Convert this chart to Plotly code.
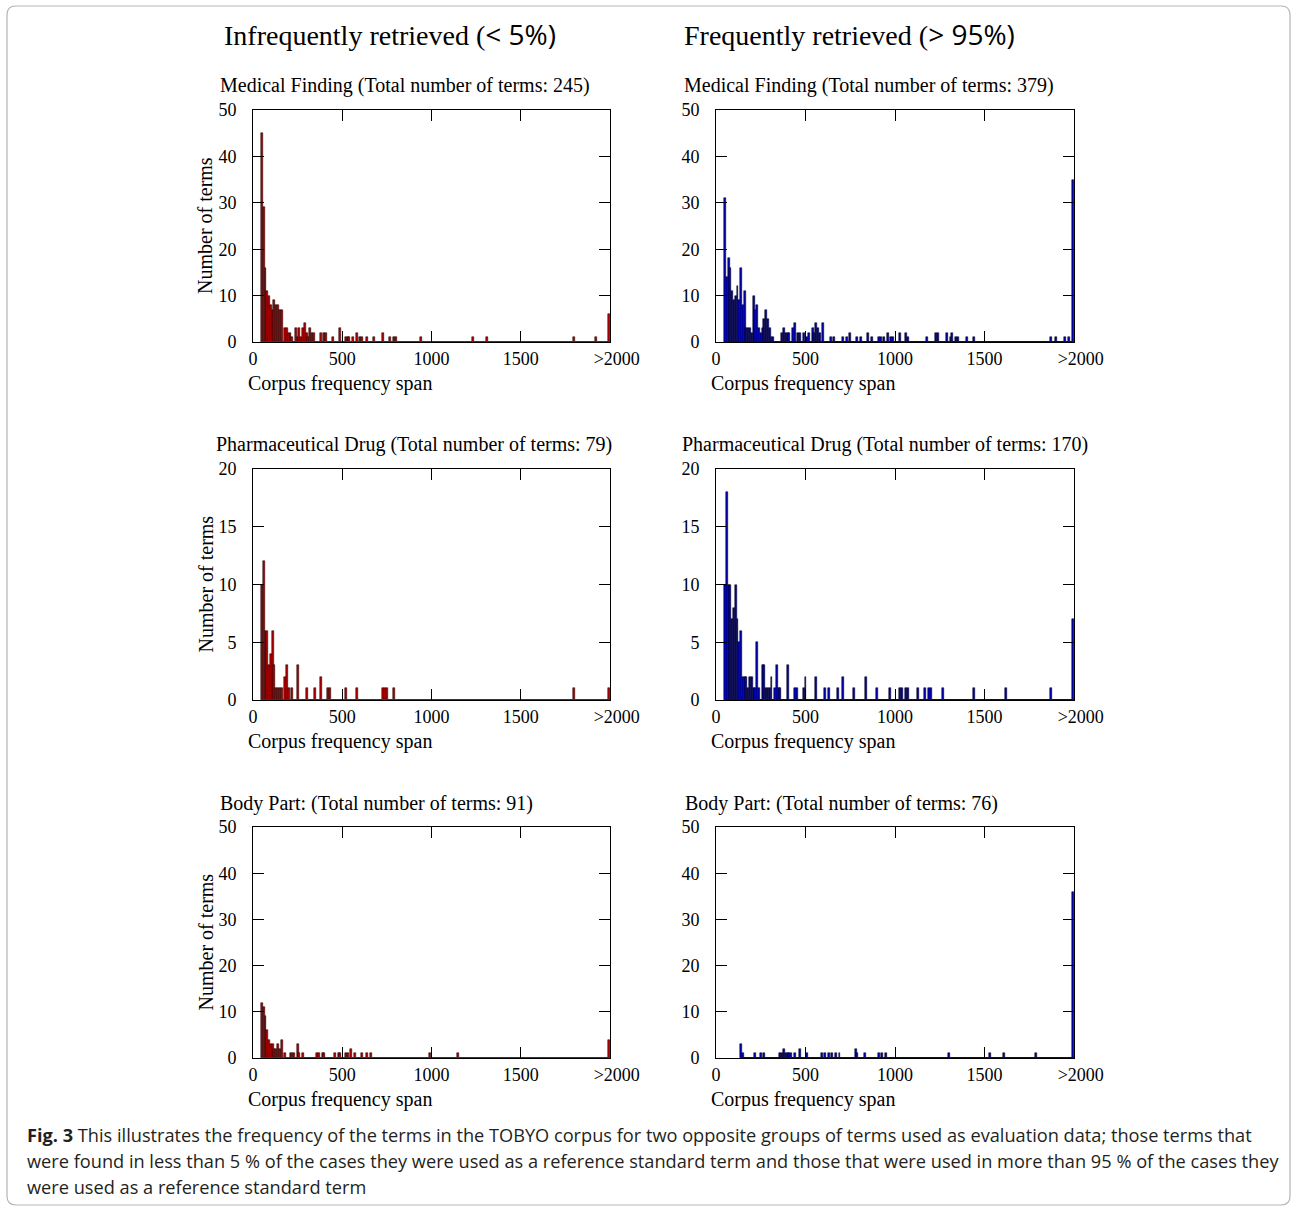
import plotly.graph_objects as go

# ---------------- data ----------------
# bin centres (corpus frequency span) and number of terms; 2000 = ">2000"
mf_low_x = [50, 60, 70, 80, 90, 100, 110, 120, 130, 140, 150, 160,
            180, 190, 200, 210, 220, 240, 250, 260, 270, 280, 290, 300, 310, 320, 330, 340,
            380, 400, 410, 450, 490, 520, 530, 540, 560, 580, 600, 610, 640, 680, 730,
            770, 790, 800, 940, 1230, 1310, 1800, 1920, 2000]
mf_low_y = [45, 29, 16, 11, 10, 8, 7, 9, 8, 8, 7, 7,
            3, 3, 2, 2, 1, 3, 1, 3, 1, 3, 4, 2, 1, 3, 2, 2,
            2, 2, 2, 1, 3, 1, 1, 1, 1, 2, 1, 1, 1, 1, 2,
            1, 1, 1, 1, 1, 1, 1, 1, 6]

mf_high_x = [50, 60, 70, 80, 90, 100, 110, 120, 130, 140, 150, 160,
             170, 180, 190, 200, 210, 220, 230, 240, 250, 260, 270, 280, 290, 300, 310, 320,
             370, 380, 390, 400, 410, 430, 440, 460, 470, 490, 510, 520, 540, 550, 560, 570,
             580, 600, 640, 660, 710, 730, 750, 790, 810, 850, 870, 910, 920, 940, 960, 980,
             990, 1030, 1060, 1070, 1180, 1230, 1240, 1290, 1310, 1320, 1340, 1350, 1400,
             1440, 1870, 1900, 1950, 1970, 2000]
mf_high_y = [31, 14, 18, 16, 11, 9, 10, 12, 9, 16, 8, 11,
             3, 3, 3, 2, 10, 7, 8, 3, 2, 3, 5, 7, 5, 3, 1, 1,
             2, 3, 2, 2, 2, 3, 4, 2, 2, 2, 1, 2, 3, 2, 4, 3,
             2, 4, 1, 1, 1, 1, 2, 1, 1, 2, 1, 1, 1, 1, 2, 1,
             1, 2, 2, 1, 1, 2, 2, 2, 1, 2, 1, 1, 1,
             1, 1, 1, 1, 1, 35]

pd_low_x = [50, 60, 70, 80, 90, 100, 110, 120, 130, 140, 150, 160, 180, 190, 200, 220,
            250, 300, 350, 380, 420, 430, 520, 580, 730, 740, 750, 790, 1800, 2000]
pd_low_y = [10, 12, 6, 6, 3, 4, 6, 3, 1, 1, 1, 1, 2, 3, 1, 1,
            3, 1, 1, 2, 1, 1, 1, 1, 1, 1, 1, 1, 1, 1]

pd_high_x = [50, 60, 70, 80, 90, 100, 110, 120, 130, 140, 150, 160, 170, 180, 190, 200,
             210, 220, 230, 240, 260, 270, 280, 290, 300, 310, 330, 340, 350, 360, 400,
             440, 450, 490, 500, 560, 610, 630, 680, 710, 770, 840, 900, 970, 1030, 1040,
             1060, 1070, 1130, 1170, 1190, 1200, 1270, 1440, 1620, 1870, 2000]
pd_high_y = [10, 18, 10, 10, 7, 8, 10, 7, 5, 6, 2, 2, 2, 1, 2, 2,
             1, 1, 5, 1, 3, 3, 1, 1, 1, 2, 1, 3, 1, 1, 3,
             1, 1, 1, 2, 2, 1, 1, 1, 2, 1, 2, 1, 1, 1, 1,
             1, 1, 1, 1, 1, 1, 1, 1, 1, 1, 7]

bp_low_x = [50, 60, 70, 80, 90, 100, 110, 120, 130, 140, 150, 160, 180, 210, 220, 230,
            250, 260, 280, 360, 370, 390, 400, 460, 480, 490, 520, 530, 550, 570, 610,
            640, 660, 990, 1150, 2000]
bp_low_y = [12, 11, 9, 6, 4, 3, 3, 2, 2, 3, 2, 4, 1, 1, 1, 1,
            3, 1, 1, 1, 1, 1, 1, 1, 1, 1, 1, 1, 2, 1, 1,
            1, 1, 1, 1, 4]

bp_high_x = [140, 150, 220, 250, 270, 360, 370, 380, 390, 400, 410, 420, 440, 470, 510,
             590, 610, 630, 650, 670, 690, 780, 790, 830, 910, 930, 950, 1300, 1530, 1610,
             1790, 2000]
bp_high_y = [3, 1, 1, 1, 1, 1, 1, 2, 1, 1, 1, 1, 1, 2, 1,
             1, 1, 1, 1, 1, 1, 2, 1, 1, 1, 1, 1, 1, 1, 1,
             1, 36]

panel_titles = ["Medical Finding (Total number of terms: 245)",
                "Medical Finding (Total number of terms: 379)",
                "Pharmaceutical Drug (Total number of terms: 79)",
                "Pharmaceutical Drug (Total number of terms: 170)",
                "Body Part: (Total number of terms: 91)",
                "Body Part: (Total number of terms: 76)"]
x_tickvals = [0, 500, 1000, 1500, 2000]
x_ticktext = ["0", "500", "1000", "1500", "\u00a0\u00a0\u00a0>2000"]
y_max = [50, 20, 50]
y_step = [10, 5, 10]

caption_lines = [
    "<b>Fig. 3</b> This illustrates the frequency of the terms in the TOBYO corpus for two opposite groups of terms used as evaluation data; those terms that",
    "were found in less than 5 % of the cases they were used as a reference standard term and those that were used in more than 95 % of the cases they",
    "were used as a reference standard term",
]

# ---------------- layout helpers ----------------
W, H = 1294, 1208
SERIF = "Liberation Serif"
SANS = "Open Sans"
RED = "#b40000"
BLUE = "#0000b0"

col_px = [(253, 610), (716, 1074)]
row_px = [(110, 342), (469, 700), (827, 1058)]
title_x_px = [(218, 682), (214, 680), (218, 683)]


def px_x(p):
    return p / W


def px_y(p):
    return 1 - p / H


panels = [
    (mf_low_x, mf_low_y, RED), (mf_high_x, mf_high_y, BLUE),
    (pd_low_x, pd_low_y, RED), (pd_high_x, pd_high_y, BLUE),
    (bp_low_x, bp_low_y, RED), (bp_high_x, bp_high_y, BLUE),
]

fig = go.Figure()
annotations = []
layout_axes = {}

for i, (xs, ys, color) in enumerate(panels):
    r, c = divmod(i, 2)
    n = i + 1
    xa = "x" if n == 1 else f"x{n}"
    ya = "y" if n == 1 else f"y{n}"
    offsets = [-11 if v >= 2000 else -5.5 for v in xs]
    fig.add_trace(go.Bar(
        x=xs, y=ys, width=11, offset=offsets,
        marker=dict(color=color, line=dict(color="black", width=0.5)),
        xaxis=xa, yaxis=ya, showlegend=False, hoverinfo="x+y"))
    fig.add_trace(go.Scatter(
        x=[xs[0] - 5, 2000], y=[0, 0], mode="lines",
        line=dict(color=color, width=2), xaxis=xa, yaxis=ya,
        showlegend=False, hoverinfo="skip"))

    x0, x1 = col_px[c]
    y0, y1 = row_px[r]
    common = dict(showline=True, linecolor="black", linewidth=1, mirror="ticks",
                  ticks="inside", ticklen=11, tickcolor="black", tickwidth=1,
                  showgrid=False, zeroline=False, automargin=False,
                  tickfont=dict(family=SERIF, size=18, color="black"))
    layout_axes["xaxis" if n == 1 else f"xaxis{n}"] = dict(
        domain=[px_x(x0), px_x(x1)], anchor=ya, range=[0, 2000],
        tickvals=x_tickvals, ticktext=x_ticktext, **common)
    layout_axes["yaxis" if n == 1 else f"yaxis{n}"] = dict(
        domain=[px_y(y1), px_y(y0)], anchor=xa, range=[0, y_max[r]],
        dtick=y_step[r], tick0=0, ticklabelstandoff=12, **common)

    # panel title
    annotations.append(dict(
        text=panel_titles[i], xref="paper", yref="paper",
        x=px_x(title_x_px[r][c]), y=px_y(y0 - 24), xanchor="left", yanchor="middle",
        showarrow=False, font=dict(family=SERIF, size=20, color="black")))
    # x-axis title
    annotations.append(dict(
        text="Corpus frequency span", xref="paper", yref="paper",
        x=px_x(x0 - 7), y=px_y(y1 + 41), xanchor="left", yanchor="middle",
        showarrow=False, font=dict(family=SERIF, size=20, color="black")))
    if c == 0:
        annotations.append(dict(
            text="Number of terms", xref="paper", yref="paper",
            x=px_x(205), y=px_y((y0 + y1) / 2), xanchor="center", yanchor="middle",
            textangle=-90, showarrow=False,
            font=dict(family=SERIF, size=20, color="black")))

# column headers
annotations.append(dict(
    text=f"Infrequently retrieved (<span style='font-family:{SANS}'>&lt; 5%)</span>",
    xref="paper", yref="paper", x=px_x(222), y=px_y(34), xanchor="left", yanchor="middle",
    showarrow=False, font=dict(family=SERIF, size=28, color="black")))
annotations.append(dict(
    text=f"Frequently retrieved (<span style='font-family:{SANS}'>&gt; 95%)</span>",
    xref="paper", yref="paper", x=px_x(682), y=px_y(34), xanchor="left", yanchor="middle",
    showarrow=False, font=dict(family=SERIF, size=28, color="black")))

# caption
for k, line in enumerate(caption_lines):
    annotations.append(dict(
        text=line, xref="paper", yref="paper", x=px_x(25), y=px_y(1135 + 26 * k),
        xanchor="left", yanchor="middle", showarrow=False,
        font=dict(family=SANS, size=18.2, color="#231f20")))

# rounded outer frame
rr = 9
fx0, fx1, fy0, fy1 = 7, 1290, 6, 1205
path = (f"M {px_x(fx0 + rr)} {px_y(fy0)} L {px_x(fx1 - rr)} {px_y(fy0)} "
        f"Q {px_x(fx1)} {px_y(fy0)} {px_x(fx1)} {px_y(fy0 + rr)} "
        f"L {px_x(fx1)} {px_y(fy1 - rr)} Q {px_x(fx1)} {px_y(fy1)} {px_x(fx1 - rr)} {px_y(fy1)} "
        f"L {px_x(fx0 + rr)} {px_y(fy1)} Q {px_x(fx0)} {px_y(fy1)} {px_x(fx0)} {px_y(fy1 - rr)} "
        f"L {px_x(fx0)} {px_y(fy0 + rr)} Q {px_x(fx0)} {px_y(fy0)} {px_x(fx0 + rr)} {px_y(fy0)} Z")

fig.update_layout(
    width=W, height=H, margin=dict(l=0, r=0, t=0, b=0, autoexpand=False),
    paper_bgcolor="white", plot_bgcolor="white",
    bargap=0, annotations=annotations,
    shapes=[dict(type="path", path=path, xref="paper", yref="paper",
                 line=dict(color="#b5b5b5", width=1.2), fillcolor="rgba(0,0,0,0)")],
    **layout_axes)

fig.write_html("out.html")
